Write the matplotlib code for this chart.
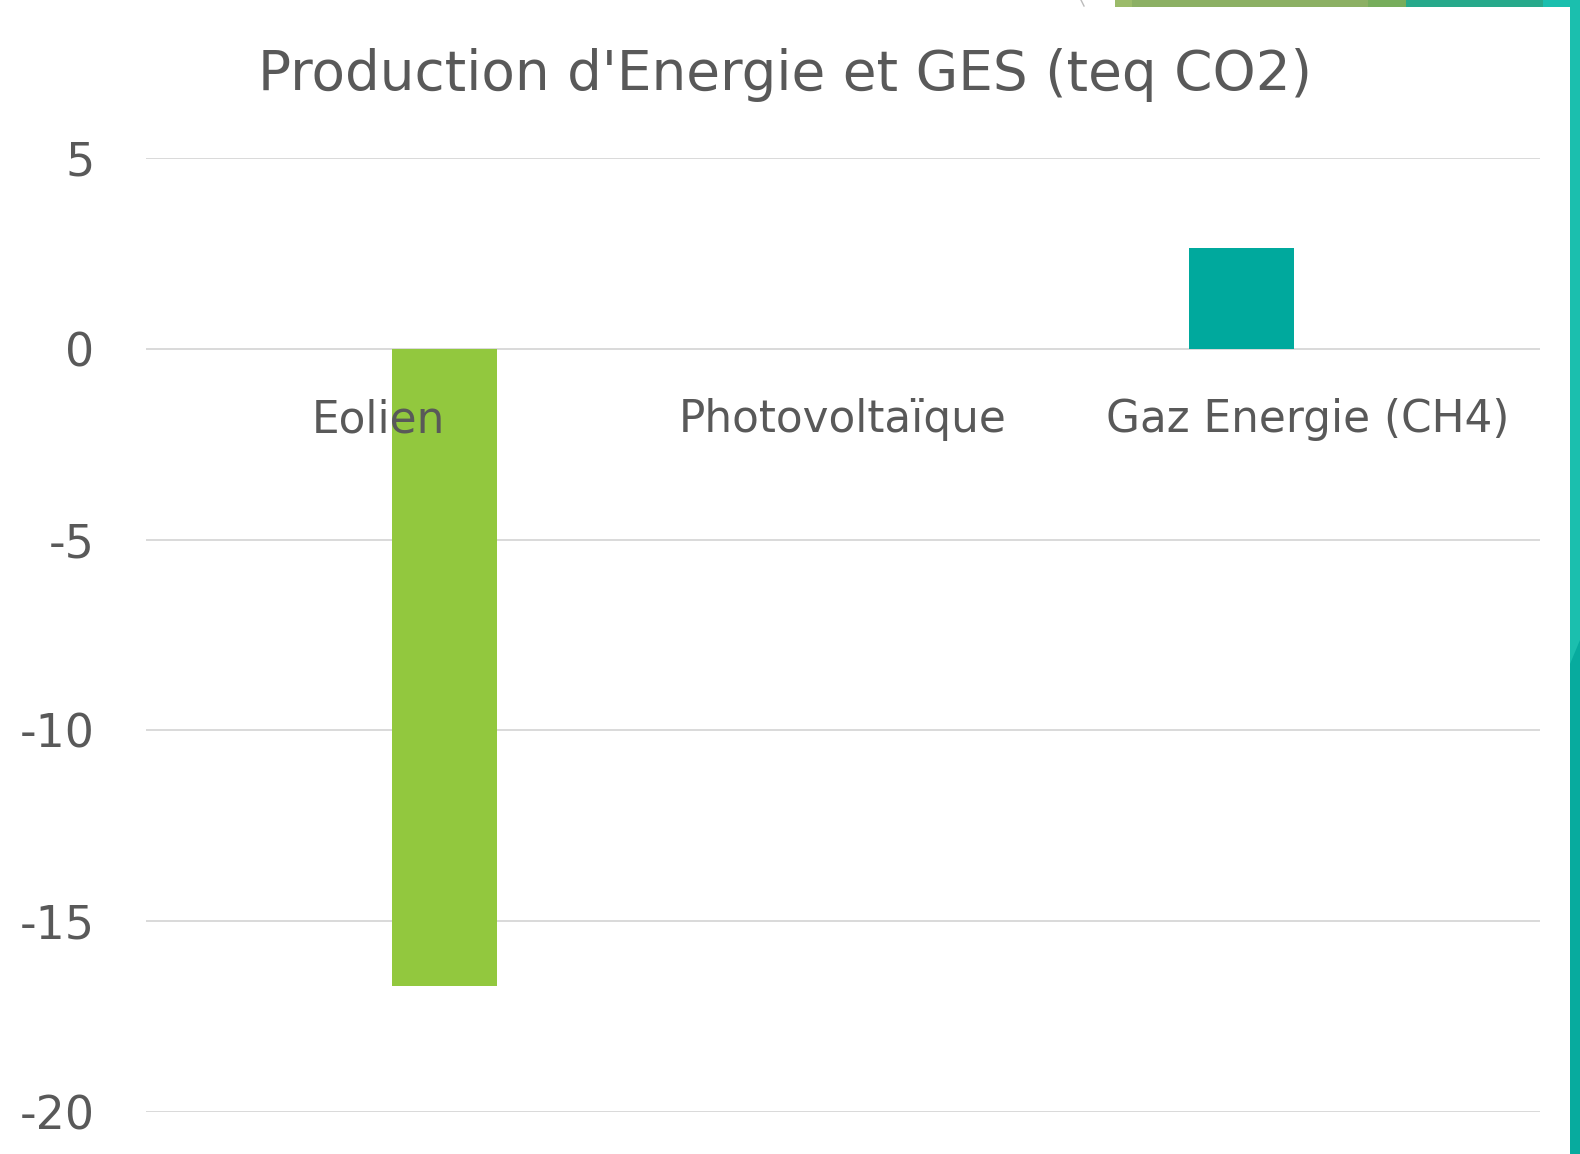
import matplotlib
matplotlib.use("Agg")
import matplotlib.pyplot as plt
from matplotlib.patches import Rectangle, Polygon

# Data
categories = ["Eolien", "Photovoltaïque", "Gaz Energie (CH4)"]
values = [-16.7, 0.0, 2.65]
bar_colors = ["#92c83e", "#8fc43e", "#00a99d"]
y_ticks = [5, 0, -5, -10, -15, -20]
title = "Production d'Energie et GES (teq CO2)"

TEXT = "#595959"
GRID = "#d9d9d9"

fig = plt.figure(figsize=(15.8, 11.54), dpi=100, facecolor="white")
ax = fig.add_axes([0.0924, 0.0364, 0.8823, 0.8267])
ax.set_facecolor("white")

# bars sit to either side of the category centre, as in a clustered layout
offsets = [0.1425, 0.0, -0.1425]
x = [i + o for i, o in enumerate(offsets)]
ax.bar(x, values, width=0.226, color=bar_colors, zorder=2, linewidth=0)

ax.set_xlim(-0.5, len(categories) - 0.5)
ax.set_ylim(-20, 5)
ax.set_yticks(y_ticks)
ax.set_yticklabels([str(t) for t in y_ticks])
ax.yaxis.grid(True, color=GRID, linewidth=1.4, zorder=0)
ax.set_axisbelow(True)
ax.tick_params(axis="y", length=0, pad=37, labelsize=33, labelcolor=TEXT)
for lbl in ax.get_yticklabels():
    lbl.set_family("DejaVu Sans")
ax.set_xticks([])
for s in ax.spines.values():
    s.set_visible(False)

# category labels sit just under the zero line, drawn over the bars
for i, c in enumerate(categories):
    ax.text(i, -1.3, c, ha="center", va="top", fontsize=31.5, color=TEXT,
            family="DejaVu Sans", zorder=5)

fig.text(0.497, 1 - 90 / 1154, title, ha="center", va="baseline",
         fontsize=39.5, color=TEXT, family="DejaVu Sans")

# decorative frame: coloured band at the top right and strip on the right edge
W, H = 1580, 1154
def frect(x0, y0, x1, y1, color):
    fig.patches.append(Rectangle((x0 / W, 1 - y1 / H), (x1 - x0) / W, (y1 - y0) / H,
                                 transform=fig.transFigure, color=color, lw=0, zorder=10))

frect(1115, 0, 1132, 7, "#9bbb6a")
frect(1132, 0, 1368, 7, "#8cb064")
frect(1368, 0, 1406, 7, "#77ad5c")
frect(1406, 0, 1543, 7, "#27a98b")
frect(1543, 0, 1580, 7, "#1bbfae")
frect(1570, 0, 1580, 1154, "#07ab9e")
fig.patches.append(Polygon([(1570 / W, 1), (1, 1), (1, 1 - 640 / H), (1570 / W, 1 - 664 / H)],
                           closed=True, transform=fig.transFigure, color="#1bbfae",
                           lw=0, zorder=11))
fig.lines.append(plt.Line2D([1081 / W, 1084 / W], [1, 1 - 6 / H], transform=fig.transFigure,
                            color="#bbbbbb", lw=1))

fig.savefig("out.png", dpi=100, facecolor="white")
